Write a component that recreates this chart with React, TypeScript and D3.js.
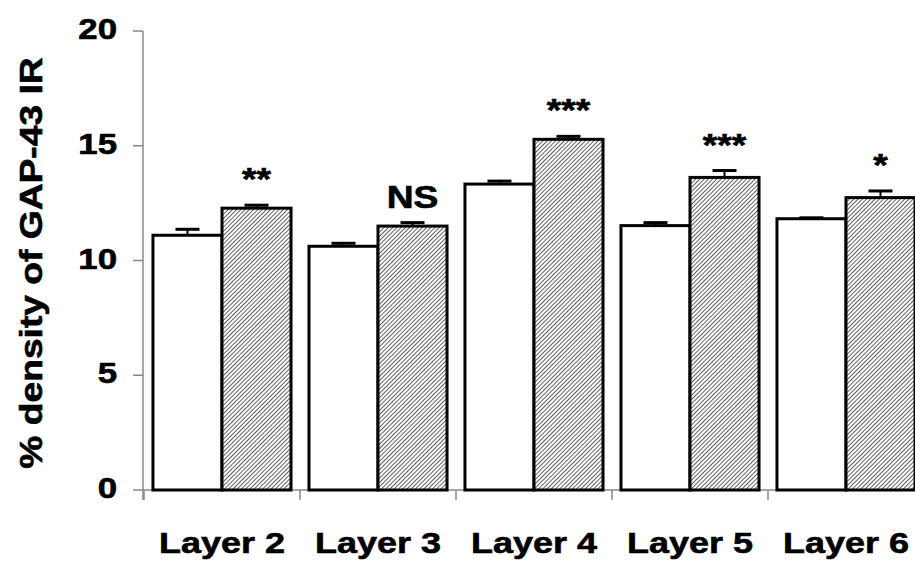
import React from "react";
import * as d3 from "d3";

// chart values
const layers = ["Layer 2", "Layer 3", "Layer 4", "Layer 5", "Layer 6"];
const groups = ["control", "treated"];
const controlMeans = [11.1, 10.62, 13.33, 11.52, 11.82];
const controlErr = [0.26, 0.13, 0.13, 0.13, 0.04];
const treatedMeans = [12.28, 11.5, 15.28, 13.62, 12.74];
const treatedErr = [0.13, 0.15, 0.13, 0.3, 0.29];
const significance = ["**", "NS", "***", "***", "*"];
const yTicks = [0, 5, 10, 15, 20];

const W = 915;
const H = 565;
const FONT = "'Liberation Sans', Arial, sans-serif";
const STRETCH = 1.2; // text in the figure is stretched horizontally
const AXIS = "#888";

// shared text props, a thin stroke makes the glyphs as heavy as the original
const textProps = {
  fontFamily: FONT,
  fontWeight: "bold",
  fill: "#000",
  stroke: "#000",
  strokeWidth: 0.6,
};

const App = () => {
  const x0 = d3.scaleBand<string>().domain(layers).range([144, 144 + 156 * layers.length]);
  const x1 = d3
    .scaleBand<string>()
    .domain(groups)
    .range([0, x0.bandwidth()])
    .paddingOuter(0.13);
  const y = d3.scaleLinear().domain([0, 20]).range([490, 31]);

  const bars = layers.flatMap((l, i) => [
    { layer: l, group: "control", mean: controlMeans[i], err: controlErr[i] },
    { layer: l, group: "treated", mean: treatedMeans[i], err: treatedErr[i] },
  ]);

  //category boundary ticks on the x axis
  const bounds = layers.map((l) => x0(l) as number);

  return (
    <svg
      width={W}
      height={H}
      style={{ position: "absolute", left: 0, top: 0, background: "#fff" }}
    >
      <defs>
        <pattern
          id="hatch"
          width={3}
          height={3}
          patternUnits="userSpaceOnUse"
          patternTransform="rotate(45)"
        >
          <rect width={3} height={3} fill="#fff" />
          <line x1={0} y1={-1} x2={0} y2={4} stroke="#2a2a2a" strokeWidth={1.5} />
        </pattern>
      </defs>

      {/* y axis */}
      <line x1={143} x2={143} y1={y(20)} y2={500} stroke={AXIS} strokeWidth={1.5} />
      {yTicks.map((t) => (
        <g key={t}>
          <line x1={133} x2={143} y1={y(t)} y2={y(t)} stroke={AXIS} strokeWidth={1.5} />
          <text
            {...textProps}
            transform={`translate(117,${y(t) + 8}) scale(${STRETCH},1)`}
            textAnchor="end"
            fontSize={29}
          >
            {t}
          </text>
        </g>
      ))}

      {/* x axis */}
      <line x1={143} x2={W} y1={y(0)} y2={y(0)} stroke={AXIS} strokeWidth={1.5} />
      {bounds.map((b, i) => (
        <line key={i} x1={b} x2={b} y1={y(0)} y2={500} stroke={AXIS} strokeWidth={1.5} />
      ))}
      {layers.map((l) => (
        <text
          key={l}
          {...textProps}
          transform={`translate(${(x0(l) as number) + x0.bandwidth() / 2},553) scale(${STRETCH},1)`}
          textAnchor="middle"
          fontSize={30}
        >
          {l}
        </text>
      ))}

      {/* bars */}
      {bars.map((d, i) => {
        const bx = (x0(d.layer) as number) + (x1(d.group) as number);
        const bw = x1.bandwidth();
        const cx = bx + bw / 2;
        return (
          <g key={i}>
            <line x1={cx} x2={cx} y1={y(d.mean)} y2={y(d.mean + d.err)} stroke="#000" strokeWidth={2} />
            <line
              x1={cx - 12}
              x2={cx + 12}
              y1={y(d.mean + d.err)}
              y2={y(d.mean + d.err)}
              stroke="#000"
              strokeWidth={3}
            />
            <rect
              x={bx}
              y={y(d.mean)}
              width={bw}
              height={y(0) - y(d.mean)}
              fill={d.group === "control" ? "#fff" : "url(#hatch)"}
              stroke="#000"
              strokeWidth={3}
            />
          </g>
        );
      })}

      {/* significance labels */}
      {layers.map((l, i) => (
        <text
          key={l}
          {...textProps}
          transform={`translate(${(x0(l) as number) + (x1("treated") as number) + x1.bandwidth() / 2},${
            y(treatedMeans[i] + treatedErr[i]) - 15
          }) scale(${STRETCH},1)`}
          textAnchor="middle"
          fontSize={31}
        >
          {significance[i]}
        </text>
      ))}

      {/* y axis title */}
      <text
        {...textProps}
        transform={`translate(42,263) rotate(-90) scale(${STRETCH},1)`}
        textAnchor="middle"
        fontSize={31}
      >
        % density of GAP-43 IR
      </text>
    </svg>
  );
};

export default App;
